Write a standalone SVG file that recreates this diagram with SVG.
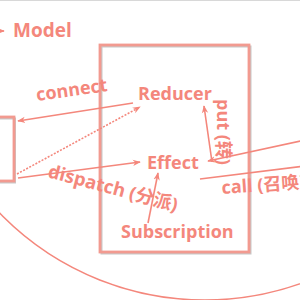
<svg xmlns="http://www.w3.org/2000/svg" width="300" height="300" viewBox="0 0 300 300">
<defs>
<style>
.lbl{font-family:"Open Sans","Noto Sans CJK SC",sans-serif;font-weight:bold;fill:#f4877c}
.ln{stroke:#f4877c;stroke-width:1.6;fill:none}
.box{fill:none;stroke:#f29a90;stroke-width:2.8}
.shadow{fill:none;stroke:#c8c8c8;stroke-width:2}
</style>
<marker id="ah" viewBox="0 0 10 10" refX="9" refY="5" markerWidth="8" markerHeight="8" markerUnits="userSpaceOnUse" orient="auto">
<path d="M0,1 L10,5 L0,9 L3,5 Z" fill="#f4877c"/>
</marker>
</defs>
<rect width="300" height="300" fill="#ffffff"/>
<line x1="0" y1="0.5" x2="300" y2="0.5" stroke="#d8d8d8" stroke-width="1"/>
<circle cx="205" cy="14" r="286" class="ln" stroke-width="1.3"/>
<g id="model">
<line x1="-10" y1="31" x2="4" y2="31" class="ln" marker-end="url(#ah)"/>
<text x="13" y="37" class="lbl" font-size="19">Model</text>
</g>
<g id="view">
<rect x="-20" y="118.5" width="35" height="64" class="shadow"/>
<rect x="-20" y="117" width="34" height="64" class="box"/>
</g>
<g id="model-box">
<rect x="101.5" y="46.5" width="149" height="207" class="shadow"/>
<rect x="100" y="45" width="149" height="207" class="box"/>
</g>
<g id="reducer"><text x="138" y="100" class="lbl" font-size="18">Reducer</text></g>
<g id="effect"><text x="147" y="169" class="lbl" font-size="18">Effect</text></g>
<g id="subscription"><text x="121" y="238" class="lbl" font-size="18">Subscription</text></g>
<g id="connectors">
<line x1="133" y1="103" x2="18" y2="121" class="ln" marker-end="url(#ah)"/>
<line x1="17" y1="174" x2="140" y2="107" class="ln" stroke-width="1.2" stroke-dasharray="2 1.5" marker-end="url(#ah)"/>
<line x1="18" y1="178" x2="140" y2="162" class="ln" marker-end="url(#ah)"/>
<line x1="148" y1="223" x2="158" y2="173" class="ln" marker-end="url(#ah)"/>
<line x1="212" y1="162" x2="204" y2="106" class="ln" marker-end="url(#ah)"/>
<line x1="305" y1="140" x2="208" y2="161" class="ln" marker-end="url(#ah)"/>
<line x1="200" y1="179" x2="305" y2="166" class="ln"/>
<text transform="translate(37,101) rotate(-8)" class="lbl" font-size="18">connect</text>
<text transform="translate(47,177) rotate(15)" class="lbl" font-size="18.5">dispatch (分派)</text>
<text transform="translate(217,99) rotate(90)" class="lbl" font-size="18">put (转)</text>
<text transform="translate(222,194) rotate(-4)" class="lbl" font-size="18">call (召唤)</text>
</g>
</svg>
